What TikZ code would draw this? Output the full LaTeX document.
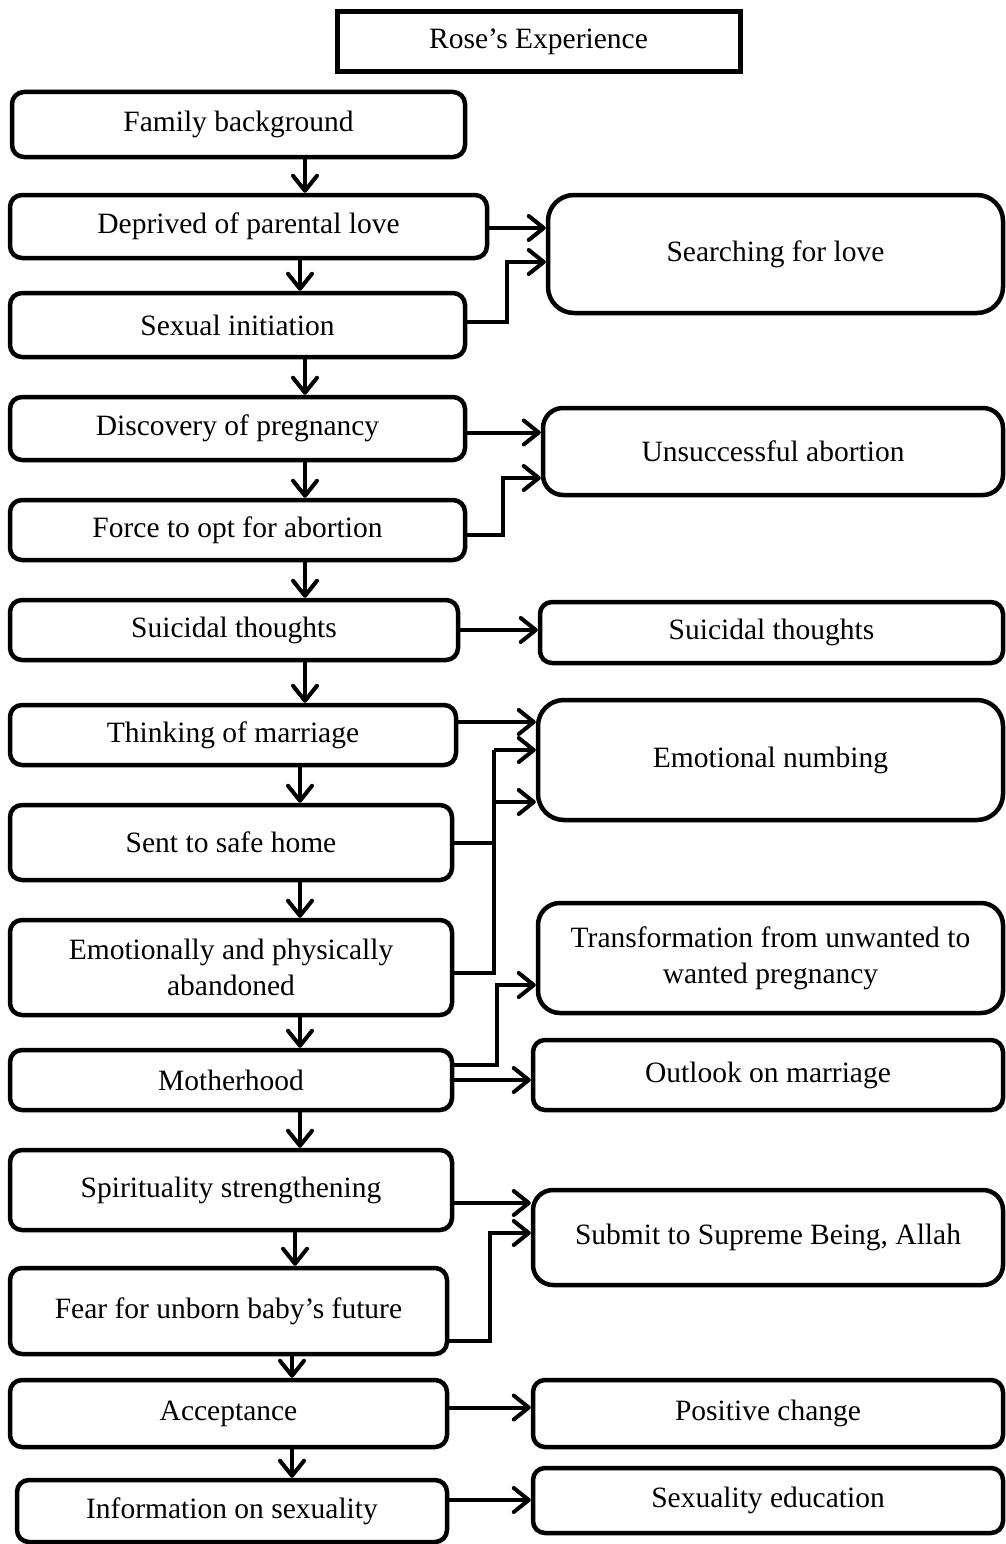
\documentclass[tikz,border=0pt]{standalone}
\usepackage{fontspec}
\setmainfont{Liberation Serif}
\usetikzlibrary{arrows.meta}
\begin{document}
\begin{tikzpicture}[x=1pt,y=-1pt,
  box/.style={draw,line width=4.5pt,rounded corners=12pt,inner sep=0pt,
    align=center,font=\fontsize{29.5}{36}\selectfont},
  titlebox/.style={draw,line width=5pt,inner sep=0pt,font=\fontsize{29.5}{36}\selectfont},
  link/.style={line width=4pt},
  arr/.style={line width=4pt,-{Straight Barb[length=15pt,width=24pt,round]}}]
\useasboundingbox (0,0) rectangle (1005,1544);

% title
\node[titlebox,minimum width=403,minimum height=60] (title) at (538.5,42) {Rose’s Experience};

% main sequence (left column)
\node[box,minimum width=453,minimum height=65] (fam)    at (238.5,124.5) {Family background};
\node[box,minimum width=477,minimum height=63] (dep)    at (248.5,226.5) {Deprived of parental love};
\node[box,minimum width=455,minimum height=64] (sex)    at (237.5,325)   {Sexual initiation};
\node[box,minimum width=455,minimum height=63] (disc)   at (237.5,428.5) {Discovery of pregnancy};
\node[box,minimum width=455,minimum height=60] (force)  at (237.5,530)   {Force to opt for abortion};
\node[box,minimum width=448,minimum height=60] (suiL)   at (234,630)     {Suicidal thoughts};
\node[box,minimum width=446,minimum height=60] (think)  at (233,735)     {Thinking of marriage};
\node[box,minimum width=442,minimum height=75] (safe)   at (231,842.5)   {Sent to safe home};
\node[box,minimum width=442,minimum height=95] (aband)  at (231,967.5)   {Emotionally and physically\\abandoned};
\node[box,minimum width=442,minimum height=60] (mother) at (231,1080)    {Motherhood};
\node[box,minimum width=442,minimum height=80] (spirit) at (231,1190)    {Spirituality strengthening};
\node[box,minimum width=437,minimum height=86] (fear)   at (228.5,1311)  {Fear for unborn baby’s future};
\node[box,minimum width=437,minimum height=67] (accept) at (228.5,1413.5){Acceptance};
\node[box,minimum width=430,minimum height=62] (info)   at (232,1511)    {Information on sexuality};

% outcomes (right column)
\node[box,rounded corners=26pt,minimum width=455,minimum height=118] (search)   at (775.5,254)   {Searching for love};
\node[box,rounded corners=20pt,minimum width=460,minimum height=87]  (unsucc)   at (773,451.5)   {Unsuccessful abortion};
\node[box,minimum width=463,minimum height=61]                       (suiR)     at (771.5,632.5) {Suicidal thoughts};
\node[box,rounded corners=26pt,minimum width=465,minimum height=120] (numb)     at (770.5,760)   {Emotional numbing};
\node[box,rounded corners=22pt,minimum width=465,minimum height=110] (trans)    at (770.5,958)   {Transformation from unwanted to\\wanted pregnancy};
\node[box,minimum width=470,minimum height=70]                       (outlook)  at (768,1075)    {Outlook on marriage};
\node[box,rounded corners=20pt,minimum width=470,minimum height=95]  (submit)   at (768,1237.5)  {Submit to Supreme Being, Allah};
\node[box,minimum width=470,minimum height=67]                       (positive) at (768,1413.5)  {Positive change};
\node[box,minimum width=470,minimum height=65]                       (sexed)    at (768,1500.5)  {Sexuality education};

% columns for the downward arrows
\coordinate (xa) at (305,0);
\coordinate (xb) at (300,0);
\coordinate (xc) at (295,0);
\coordinate (xd) at (292,0);

\draw[arr] (fam.south -| xa)    -- (dep.north -| xa);
\draw[arr] (dep.south -| xb)    -- (sex.north -| xb);
\draw[arr] (sex.south -| xa)    -- (disc.north -| xa);
\draw[arr] (disc.south -| xa)   -- (force.north -| xa);
\draw[arr] (force.south -| xa)  -- (suiL.north -| xa);
\draw[arr] (suiL.south -| xa)   -- (think.north -| xa);
\draw[arr] (think.south -| xb)  -- (safe.north -| xb);
\draw[arr] (safe.south -| xb)   -- (aband.north -| xb);
\draw[arr] (aband.south -| xb)  -- (mother.north -| xb);
\draw[arr] (mother.south -| xb) -- (spirit.north -| xb);
\draw[arr] (spirit.south -| xc) -- (fear.north -| xc);
\draw[arr] (fear.south -| xd)   -- (accept.north -| xd);
\draw[arr] (accept.south -| xd) -- (info.north -| xd);

% bend points of the elbow connectors
\coordinate (j1) at (507,262);
\coordinate (j2) at (503,478);
\coordinate (j3) at (494,750);
\coordinate (j4) at (494,802);
\coordinate (j5) at (497,985);
\coordinate (j6) at (490,1233);

% links to the outcomes
\draw[arr] ([yshift=-1.5pt]dep.east) -- ([yshift=-1.5pt]dep.east -| search.west);
\draw[arr] ([yshift=3pt]sex.east) -| (j1) -- (j1 -| search.west);

\draw[arr] ([yshift=-4pt]disc.east) -- ([yshift=-4pt]disc.east -| unsucc.west);
\draw[arr] ([yshift=-5pt]force.east) -| (j2) -- (j2 -| unsucc.west);

\draw[arr] (suiL.east) -- (suiL.east -| suiR.west);

\draw[arr] ([yshift=13pt]think.east) -- ([yshift=13pt]think.east -| numb.west);
\draw[link] (safe.east) -- (safe.east -| j3);
\draw[link,line join=miter] ([yshift=-5pt]aband.east) -| (j3);
\draw[arr] (j3) -- (j3 -| numb.west);
\draw[arr] (j4) -- (j4 -| numb.west);

\draw[arr] ([yshift=15pt]mother.east) -| (j5) -- (j5 -| trans.west);
\draw[arr] (mother.east) -- (mother.east -| outlook.west);

\draw[arr] ([yshift=-13pt]spirit.east) -- ([yshift=-13pt]spirit.east -| submit.west);
\draw[arr] ([yshift=-30pt]fear.east) -| (j6) -- (j6 -| submit.west);

\draw[arr] ([yshift=6pt]accept.east) -- ([yshift=6pt]accept.east -| positive.west);
\draw[arr] ([yshift=11pt]info.east) -- ([yshift=11pt]info.east -| sexed.west);
\end{tikzpicture}
\end{document}
